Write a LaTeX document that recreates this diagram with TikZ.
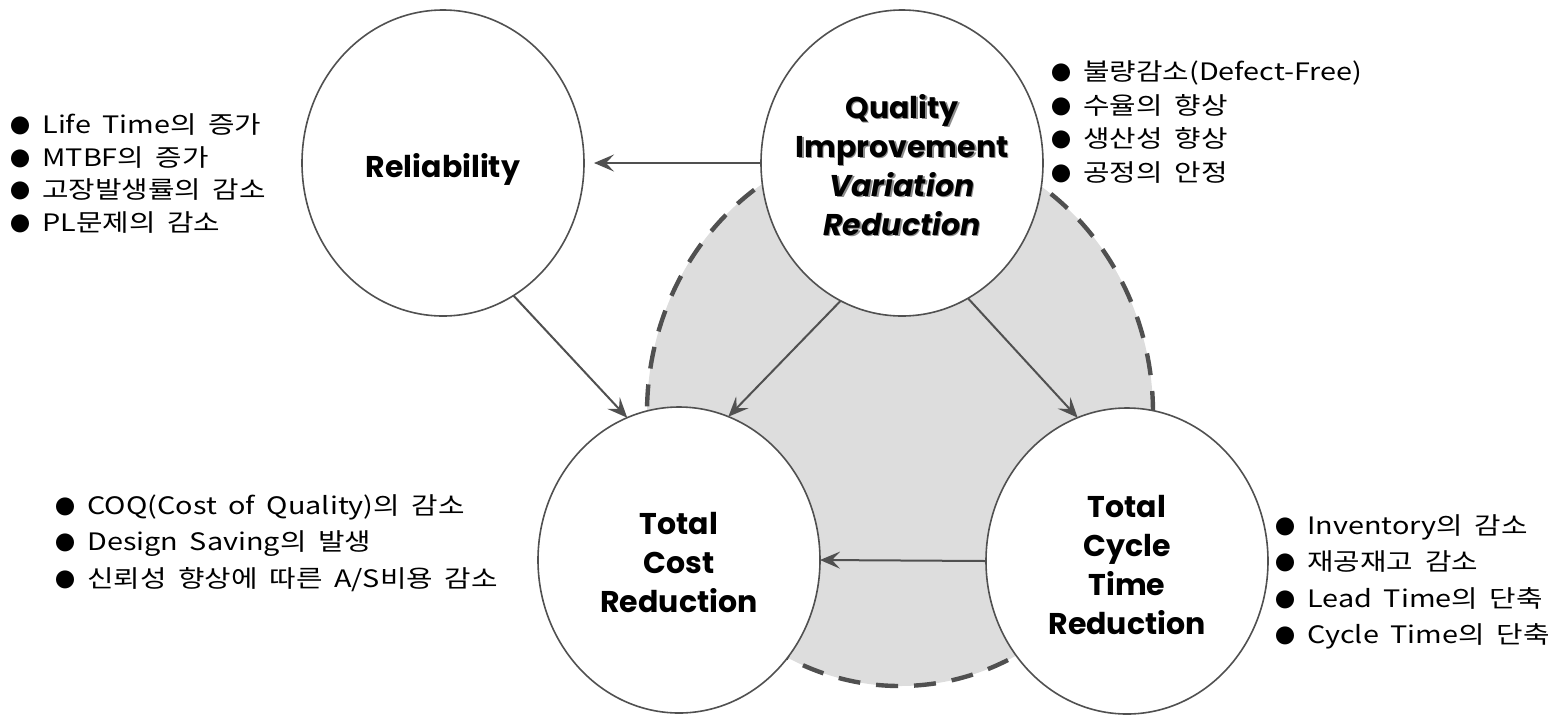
\documentclass[tikz,border=0pt]{standalone}
\usepackage{fontspec}
\setmainfont{Noto Sans CJK KR}
\newfontfamily\bulfont{Noto Sans CJK KR}[FakeStretch=1.2, WordSpace=1.8]
\newfontfamily\dotfont{Noto Sans CJK KR}
\newfontfamily\titlefont{Poppins}
\usetikzlibrary{shapes.geometric,arrows.meta}
\definecolor{lineg}{HTML}{505050}
\definecolor{zonefill}{HTML}{DDDDDD}
\definecolor{shadowg}{HTML}{8C8C8C}
\newcommand{\bul}{\makebox[15pt][l]{\hspace{-0.8pt}\dotfont\fontsize{10}{10}\selectfont ●}}
\begin{document}
\begin{tikzpicture}[x=0.5pt,y=-0.5pt,
  bubble/.style={draw=lineg, line width=0.8pt, fill=white, ellipse, minimum width=141pt, minimum height=153pt, inner sep=0pt, outer sep=0pt},
  zone/.style={draw=lineg, line width=2.2pt, fill=zonefill, ellipse, dash pattern=on 11pt off 8pt, minimum width=253pt, minimum height=273pt, inner sep=0pt, outer sep=0pt},
  title/.style={font=\titlefont\bfseries\fontsize{15}{19.5}\selectfont, align=center, text=black, inner sep=0pt},
  bullets/.style={align=left, anchor=west, inner sep=0pt},
  conn/.style={draw=lineg, line width=1pt, -{Stealth[length=10pt,width=8.5pt,inset=4pt]}}
]
\useasboundingbox (0,0) rectangle (1564,714);
\node[zone] (zone) at (900,413) {};
\node[bubble] (rel) at (443,163) {};
\node[bubble] (q) at (902,163) {};
\node[bubble] (cost) at (679,560) {};
\node[bubble] (cyc) at (1127,561) {};

\node[title, anchor=base] (rell) at (443,177) {Reliability};
\node[title, text=shadowg] (qsh) at (903.5,166.5) {Quality\\Improvement\\\textit{Variation}\\\textit{Reduction}};
\node[title] (ql) at (902,165) {Quality\\Improvement\\\textit{Variation}\\\textit{Reduction}};
\node[title] (costl) at (679,563) {Total\\Cost\\Reduction};
\node[title] (cycl) at (1127,565) {Total\\Cycle\\Time\\Reduction};

\draw[conn, shorten >=5pt] (q.west) -- (rel.east);
\draw[conn] (rel.-62.6) -- (cost.110.8);
\draw[conn] (q.-114.7) -- (cost.71);
\draw[conn] (q.-64.9) -- (cyc.109.5);
\draw[conn] (cyc.west) -- (cost.east);

\node[bullets, font=\bulfont\fontsize{12}{16.25}\selectfont] (rlist) at (12,173.5) {\bul Life Time의 증가\\\bul MTBF의 증가\\\bul 고장발생률의 감소\\\bul PL문제의 감소};
\node[bullets, font=\bulfont\fontsize{12}{16.7}\selectfont] (qlist) at (1053,122) {\bul 불량감소(Defect-Free)\\\bul 수율의 향상\\\bul 생산성 향상\\\bul 공정의 안정};
\node[bullets, font=\bulfont\fontsize{12}{18.25}\selectfont] (clist) at (57,543) {\bul COQ(Cost of Quality)의 감소\\\bul Design Saving의 발생\\\bul 신뢰성 향상에 따른 A/S비용 감소};
\node[bullets, font=\bulfont\fontsize{12}{18.2}\selectfont] (ylist) at (1277,582) {\bul Inventory의 감소\\\bul 재공재고 감소\\\bul Lead Time의 단축\\\bul Cycle Time의 단축};
\end{tikzpicture}
\end{document}
